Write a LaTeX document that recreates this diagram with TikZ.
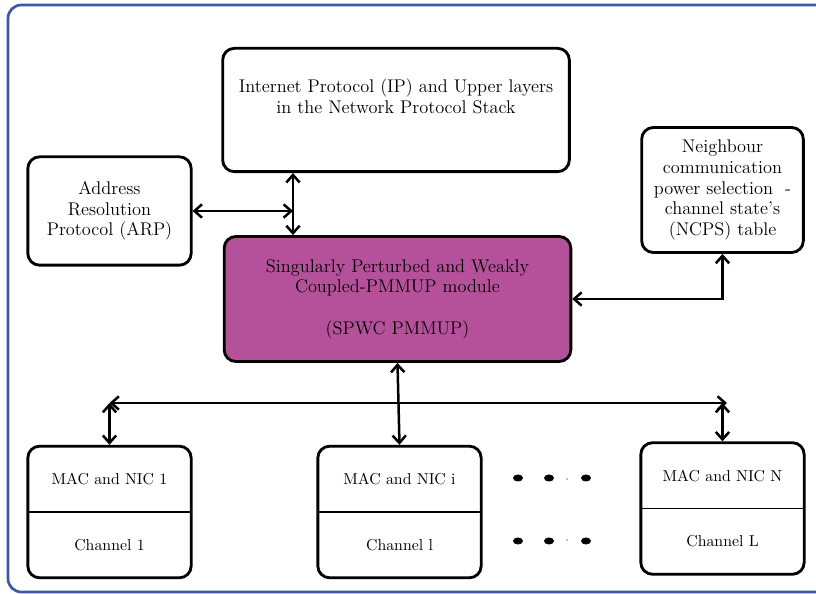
\documentclass[tikz,border=0pt]{standalone}
\usepackage{tikz}
\usetikzlibrary{arrows.meta,positioning,shapes.multipart,calc}

\definecolor{spwcpurple}{RGB}{181,81,155}
\definecolor{frameblue}{RGB}{62,88,166}

\begin{document}
\begin{tikzpicture}[x=0.6pt, y=-0.6pt, >={Straight Barb[length=4.5pt,width=8pt]}, line width=1.5pt]

    \tikzstyle{blk} = [rectangle, rounded corners=7pt, draw=black, line width=1.7pt, align=center, font=\fontsize{11}{12.4}\selectfont]
    \tikzstyle{mac} = [blk, rectangle split, rectangle split parts=2, rectangle split draw splits=false, minimum width=98pt, inner ysep=15.4pt, font=\fontsize{9.5}{11}\selectfont]
    \tikzstyle{txt} = [align=center, font=\fontsize{11}{12.4}\selectfont]
    \tikzstyle{split} = [line width=0.9pt, shorten <=0.8pt, shorten >=0.8pt]

    \useasboundingbox (0,0) rectangle (816,594);
    \draw[frameblue, line width=1.6pt, rounded corners=8pt] (8,5) rectangle (840,592);

    \node (ip)     [blk, minimum width=208pt, minimum height=74pt] at (396,110) {};
    \node (iptext) [txt, below=15pt of ip.north] {Internet Protocol (IP) and Upper layers\\in the Network Protocol Stack};

    \node (arp)    [blk, minimum width=98pt, minimum height=65pt] at (109.5,211) {Address\\Resolution\\Protocol (ARP)};

    \node (ncps)   [blk, minimum width=97pt, minimum height=75pt] at (722.5,190) {Neighbour\\communication\\power selection~~-\\channel state's\\(NCPS) table};

    \node (spwc)   [blk, fill=spwcpurple, minimum width=208pt, minimum height=75pt] at (397.5,299) {Singularly Perturbed and Weakly\\Coupled-PMMUP module\\[12.4pt](SPWC PMMUP)};

    \node (mac1)   [mac] at (109.5,512) {MAC and NIC 1 \nodepart{second} Channel 1};
    \node (maci)   [mac] at (399.5,512) {MAC and NIC i \nodepart{second} Channel l};
    \node (macn)   [mac] at (722.5,508.5) {MAC and NIC N \nodepart{second} Channel L};

    \foreach \m in {mac1,maci,macn}
        \draw[split] (\m.text split west) -- (\m.text split east);

    \coordinate (arpjoin) at (293,211);
    \coordinate (busl) at (109.5,403);
    \coordinate (busr) at (727,403);

    \draw[<->] (ip.south -| arpjoin) -- (spwc.north -| arpjoin);
    \draw[<->] (arp.east) -- (arpjoin);
    \draw[<->] (ncps.south) |- (spwc.east);

    \draw[<->] (busl) -- (busr);
    \draw[<->] (busl) -- (mac1.north);
    \draw[<->] (spwc.south) -- (maci.north);
    \draw[<->] (macn.north |- busr) -- (macn.north);

    \foreach \y in {478,541}
        \foreach \x in {518,549,586}
            \fill (\x,\y) ellipse [x radius=3pt, y radius=2.1pt];
    \fill (567,479) circle (0.4pt);
    \fill (567,540) circle (0.4pt);
\end{tikzpicture}
\end{document}
